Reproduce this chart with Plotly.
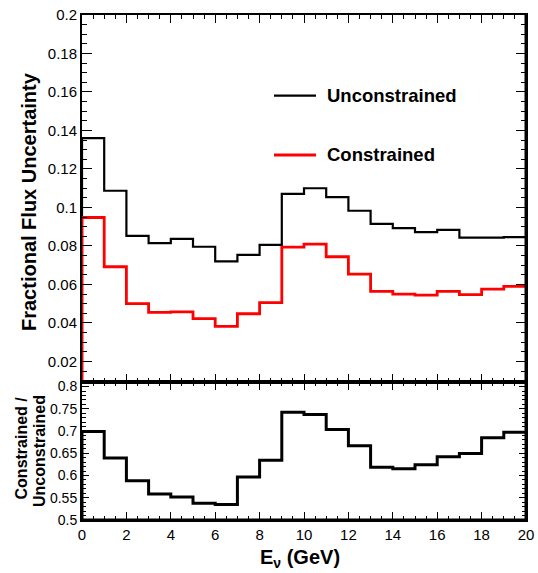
import plotly.graph_objects as go

# Bin edges (GeV)
edges = list(range(0, 21))

unconstrained = [0.136, 0.1087, 0.0853, 0.0815, 0.0837, 0.0796, 0.0720, 0.0754, 0.0806, 0.1071,
                 0.1100, 0.1054, 0.0983, 0.0915, 0.0893, 0.0872, 0.0884, 0.0843, 0.0843, 0.0846]
constrained = [0.0948, 0.0692, 0.0500, 0.0455, 0.0458, 0.0423, 0.0382, 0.0448, 0.0506, 0.0794,
               0.0810, 0.0744, 0.0654, 0.0564, 0.0550, 0.0545, 0.0564, 0.0547, 0.0576, 0.0590]
ratio = [0.699, 0.6396, 0.5885, 0.5586, 0.5518, 0.5374, 0.535, 0.5968, 0.6343, 0.7424,
         0.737, 0.7034, 0.667, 0.6185, 0.6155, 0.624, 0.642, 0.6493, 0.6847, 0.6973]

x_ticks = list(range(0, 21, 2))

FONT = "Liberation Sans, Arial, Helvetica, sans-serif"


def step(vals):
    xs = [edges[0]] + edges
    ys = [0] + vals + [vals[-1]]
    return xs, ys


fig = go.Figure()
xs, ys = step(unconstrained)
fig.add_trace(go.Scatter(x=xs, y=ys, mode="lines", line=dict(color="black", width=2.2, shape="hv"),
                         xaxis="x", yaxis="y", name="Unconstrained", showlegend=False))
xs, ys = step(constrained)
fig.add_trace(go.Scatter(x=xs, y=ys, mode="lines", line=dict(color="#ff0000", width=2.8, shape="hv"),
                         xaxis="x", yaxis="y", name="Constrained", showlegend=False))
xs, ys = step(ratio)
fig.add_trace(go.Scatter(x=xs, y=ys, mode="lines", line=dict(color="black", width=3, shape="hv"),
                         xaxis="x2", yaxis="y2", name="Ratio", showlegend=False))

split = 0.2739

common = dict(showgrid=False, zeroline=False, showline=True, linecolor="black", linewidth=2,
              mirror="allticks", ticks="inside", tickcolor="black", tickwidth=1,
              automargin=False)

fig.update_layout(
    width=538, height=573,
    margin=dict(l=82, r=12, t=15, b=53),
    paper_bgcolor="white", plot_bgcolor="white",
    font=dict(family=FONT, color="black", size=15),
    xaxis=dict(domain=[0, 1], anchor="y", range=[0, 20], showticklabels=False,
               tickvals=x_ticks, ticklen=8,
               minor=dict(dtick=0.5, ticklen=4, ticks="inside", tickcolor="black"),
               **common),
    xaxis2=dict(domain=[0, 1], anchor="y2", range=[0, 20], matches="x",
                tickvals=x_ticks, ticklen=8, tickfont=dict(size=15),
                minor=dict(dtick=0.5, ticklen=4, ticks="inside", tickcolor="black"),
                **common),
    yaxis=dict(domain=[split, 1], anchor="x", range=[0.0095, 0.2], tick0=0, dtick=0.02,
               ticklen=10, tickfont=dict(size=15),
               minor=dict(dtick=0.005, ticklen=5, ticks="inside", tickcolor="black"),
               **common),
    yaxis2=dict(domain=[0, split], anchor="x2", range=[0.5, 0.811], tick0=0.5, dtick=0.05,
                ticklen=7, tickfont=dict(size=14),
                minor=dict(dtick=0.01, ticklen=4, ticks="inside", tickcolor="black"),
                **common),
)

# thicker frame parts (right edge and panel separator, bottom)
fig.add_shape(type="line", xref="paper", yref="paper", x0=1, x1=1, y0=0, y1=1,
              line=dict(color="black", width=3))
fig.add_shape(type="line", xref="paper", yref="paper", x0=0, x1=1, y0=split, y1=split,
              line=dict(color="black", width=3))
fig.add_shape(type="line", xref="paper", yref="paper", x0=0, x1=1, y0=0, y1=0,
              line=dict(color="black", width=3))

# legend
fig.add_shape(type="line", xref="paper", yref="paper", x0=0.4324, x1=0.527, y0=0.8402, y1=0.8402,
              line=dict(color="black", width=2.2))
fig.add_shape(type="line", xref="paper", yref="paper", x0=0.4324, x1=0.527, y0=0.7228, y1=0.7228,
              line=dict(color="#ff0000", width=2.8))
fig.add_annotation(xref="paper", yref="paper", x=0.548, y=0.8402, xanchor="left", yanchor="middle",
                   text="<b>Unconstrained</b>", showarrow=False, font=dict(size=18.5))
fig.add_annotation(xref="paper", yref="paper", x=0.548, y=0.7228, xanchor="left", yanchor="middle",
                   text="<b>Constrained</b>", showarrow=False, font=dict(size=18.5))

# axis titles
fig.add_annotation(xref="paper", yref="paper", x=-0.119, y=0.63, xanchor="center", yanchor="middle",
                   text="<b>Fractional Flux Uncertainty</b>", textangle=-90, showarrow=False,
                   font=dict(size=20))
fig.add_annotation(xref="paper", yref="paper", x=-0.1374, y=0.1436, xanchor="center", yanchor="middle",
                   text="<b>Constrained /</b>", textangle=-90, showarrow=False, font=dict(size=16))
fig.add_annotation(xref="paper", yref="paper", x=-0.0968, y=0.1366, xanchor="center", yanchor="middle",
                   text="<b>Unconstrained</b>", textangle=-90, showarrow=False, font=dict(size=16))
fig.add_annotation(xref="paper", yref="paper", x=0.491, y=-0.077, xanchor="center", yanchor="middle",
                   text="<b>E<sub>ν</sub> (GeV)</b>", showarrow=False, font=dict(size=20))

fig.write_html("out.html", config={"displayModeBar": False},
               post_script="document.body.style.margin='0';")
